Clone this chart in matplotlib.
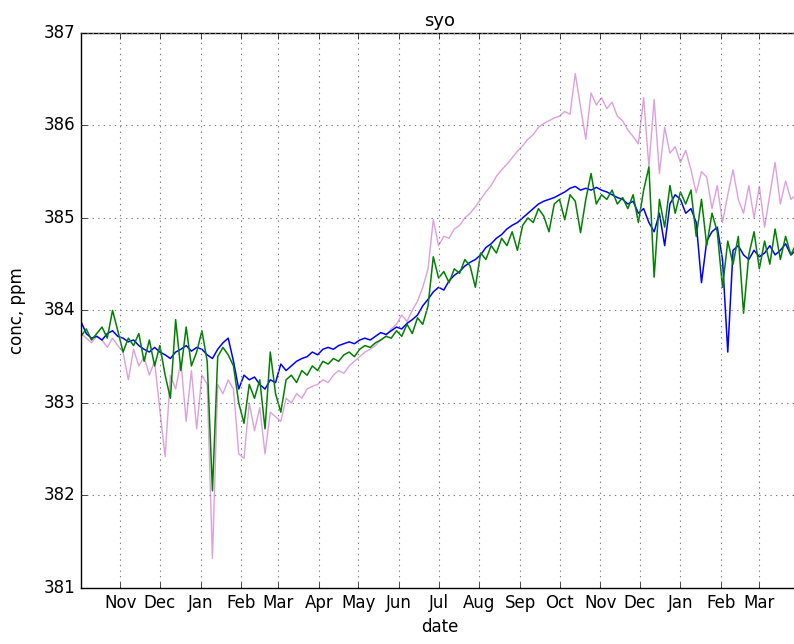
import numpy as np
import pandas as pd
import matplotlib
matplotlib.use("Agg")
import matplotlib.pyplot as plt
import matplotlib.dates as mdates
from matplotlib.ticker import ScalarFormatter

# ---- data (one value every 4 days from 2006-10-02) ----
START = "2006-10-02"
STEP = "4D"

obs_ppm = [
    383.75, 383.70, 383.65, 383.72, 383.68, 383.60, 383.70, 383.62, 383.55, 383.25,
    383.58, 383.40, 383.50, 383.30, 383.45, 382.92, 382.42, 383.30, 383.15, 383.45,
    382.80, 383.35, 382.72, 383.30, 383.20, 381.32, 383.20, 383.10, 383.25, 383.15,
    382.45, 382.40, 383.00, 382.70, 382.95, 382.45, 382.90, 382.85, 382.80, 383.05,
    383.00, 383.10, 383.05, 383.15, 383.18, 383.20, 383.25, 383.22, 383.30, 383.35,
    383.32, 383.40, 383.45, 383.50, 383.55, 383.58, 383.62, 383.68, 383.72, 383.80,
    383.85, 383.95, 383.88, 384.00, 384.10, 384.25, 384.45, 384.98, 384.70, 384.80,
    384.78, 384.88, 384.92, 385.00, 385.05, 385.12, 385.20, 385.28, 385.35, 385.45,
    385.52, 385.58, 385.65, 385.72, 385.78, 385.85, 385.90, 385.98, 386.02, 386.05,
    386.08, 386.10, 386.15, 386.12, 386.56, 386.20, 385.85, 386.35, 386.22, 386.30,
    386.18, 386.25, 386.10, 386.05, 385.95, 385.88, 385.80, 386.30, 385.55, 386.28,
    385.48, 385.98, 385.70, 385.77, 385.60, 385.73, 385.52, 385.27, 385.50, 385.44,
    385.10, 385.35, 384.95, 385.25, 385.52, 385.20, 385.05, 385.35, 385.00, 385.34,
    384.90, 385.25, 385.60, 385.15, 385.40, 385.20, 385.25,
]

model_a_ppm = [
    383.88, 383.75, 383.70, 383.72, 383.68, 383.75, 383.78, 383.72, 383.70, 383.66,
    383.68, 383.62, 383.58, 383.55, 383.60, 383.55, 383.52, 383.48, 383.55, 383.58,
    383.62, 383.56, 383.60, 383.58, 383.52, 383.48, 383.58, 383.65, 383.70, 383.45,
    383.15, 383.30, 383.25, 383.28, 383.20, 383.15, 383.25, 383.22, 383.42, 383.35,
    383.40, 383.45, 383.48, 383.50, 383.55, 383.52, 383.58, 383.60, 383.58, 383.62,
    383.64, 383.66, 383.64, 383.68, 383.70, 383.68, 383.72, 383.76, 383.74, 383.78,
    383.82, 383.80, 383.86, 383.90, 383.95, 384.05, 384.12, 384.20, 384.25, 384.22,
    384.32, 384.38, 384.42, 384.48, 384.52, 384.55, 384.60, 384.68, 384.72, 384.78,
    384.82, 384.88, 384.92, 384.95, 385.00, 385.05, 385.10, 385.15, 385.18, 385.20,
    385.22, 385.25, 385.28, 385.32, 385.34, 385.30, 385.32, 385.30, 385.33, 385.30,
    385.28, 385.25, 385.22, 385.20, 385.15, 385.18, 385.05, 385.10, 384.95, 384.85,
    385.05, 384.70, 385.15, 385.25, 385.20, 385.05, 385.10, 384.95, 384.30, 384.75,
    384.85, 384.90, 384.55, 383.55, 384.65, 384.70, 384.60, 384.55, 384.65, 384.58,
    384.62, 384.70, 384.60, 384.65, 384.72, 384.60, 384.65,
]

model_b_ppm = [
    383.72, 383.80, 383.68, 383.75, 383.82, 383.70, 384.00, 383.78, 383.55, 383.70,
    383.62, 383.75, 383.45, 383.68, 383.40, 383.62, 383.30, 383.05, 383.90, 383.35,
    383.82, 383.40, 383.55, 383.78, 383.45, 382.05, 383.50, 383.60, 383.52, 383.40,
    383.00, 382.78, 383.20, 383.05, 383.25, 382.72, 383.55, 383.10, 382.90, 383.25,
    383.30, 383.22, 383.35, 383.30, 383.40, 383.35, 383.45, 383.42, 383.48, 383.45,
    383.52, 383.55, 383.50, 383.58, 383.62, 383.60, 383.65, 383.68, 383.72, 383.70,
    383.78, 383.72, 383.85, 383.75, 383.92, 383.85, 384.05, 384.58, 384.35, 384.42,
    384.30, 384.45, 384.40, 384.55, 384.48, 384.25, 384.62, 384.55, 384.70, 384.62,
    384.78, 384.70, 384.85, 384.65, 384.92, 385.00, 384.95, 385.10, 385.02, 384.85,
    385.15, 385.20, 384.98, 385.25, 385.18, 384.84, 385.20, 385.48, 385.15, 385.25,
    385.20, 385.30, 385.15, 385.22, 385.10, 385.25, 384.95, 385.30, 385.55, 384.36,
    385.20, 384.90, 385.35, 385.05, 385.28, 385.15, 385.30, 384.80, 385.20, 384.70,
    385.05, 384.85, 384.25, 384.75, 384.50, 384.80, 383.97, 384.60, 384.85, 384.45,
    384.75, 384.50, 384.88, 384.55, 384.80, 384.60, 384.72,
]

dates = pd.date_range(START, periods=len(obs_ppm), freq=STEP)

plt.style.use("classic")
plt.rcParams["font.family"] = ["DejaVu Sans"]

fig = plt.figure(figsize=(7.94, 6.44), dpi=100, facecolor="white")
ax = fig.add_axes([0.102, 0.087, 0.904, 0.862])
ax.set_facecolor("white")

ax.plot(dates, obs_ppm, color="plum", linewidth=1.0)
ax.plot(dates, model_a_ppm, color="b", linewidth=1.1)
ax.plot(dates, model_b_ppm, color="g", linewidth=1.1)

ax.set_xlim(pd.Timestamp("2006-10-02"), pd.Timestamp("2008-03-31"))
ax.set_ylim(381, 387)
ax.set_yticks(np.arange(381, 388, 1))
yfmt = ScalarFormatter(useOffset=False)
ax.yaxis.set_major_formatter(yfmt)
ax.xaxis.set_major_locator(mdates.MonthLocator())
ax.xaxis.set_major_formatter(mdates.DateFormatter("%b"))
ax.tick_params(labelsize=12)

ax.grid(True, color="0.5", linestyle=":", linewidth=0.8)
ax.set_title("syo", fontsize=13)
ax.set_xlabel("date", fontsize=12)
ax.set_ylabel("conc, ppm", fontsize=12)
ax.yaxis.set_label_coords(-0.077, 0.5)

fig.savefig("out.png", dpi=100, facecolor="white")
